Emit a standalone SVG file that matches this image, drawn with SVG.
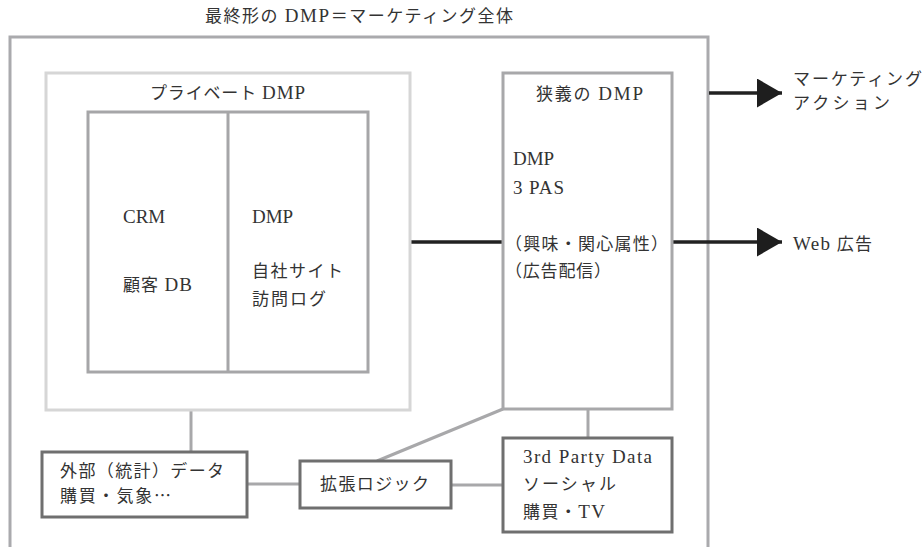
<svg xmlns="http://www.w3.org/2000/svg" width="923" height="547" viewBox="0 0 923 547">
<style>
text{font-family:"Liberation Serif","Noto Sans CJK JP",serif;font-size:17px;fill:#333;}
.L{font-size:19px;}
.cjk{font-family:"Noto Sans CJK JP",sans-serif;}
.outer{fill:none;stroke:#aaaaad;stroke-width:3;}
.priv{fill:none;stroke:#d6d6d6;stroke-width:3;}
.inner{fill:none;stroke:#a6a6a8;stroke-width:3;}
.nar{fill:none;stroke:#a8a8aa;stroke-width:3;}
.dark{fill:#fff;stroke:#6f6f6f;stroke-width:3;}
.gl{stroke:#a8a8aa;stroke-width:3;fill:none;}
.bl{stroke:#222;stroke-width:3.5;fill:none;}
</style>
<defs>
<marker id="ah" viewBox="0 0 25 29" refX="25" refY="14.5" markerWidth="25" markerHeight="29" markerUnits="userSpaceOnUse" orient="auto">
<path d="M0,0 L25,14.5 L0,29 Z" fill="#1e1e1e"/>
</marker>
</defs>
<rect width="923" height="547" fill="#fff"/>
<g id="title"><text x="205" y="22" textLength="308" lengthAdjust="spacing">最終形の <tspan class="L">DMP</tspan>＝マーケティング全体</text></g>
<g id="outer"><path class="outer" d="M10,560 L10,37 L708,37 L708,560"/></g>
<g id="connectors">
<line class="bl" x1="410" y1="242" x2="503" y2="242"/>
<line class="bl" x1="672" y1="242" x2="782" y2="242" marker-end="url(#ah)"/>
<line class="bl" x1="709" y1="93" x2="782" y2="93" marker-end="url(#ah)"/>
<line class="gl" x1="191" y1="410" x2="191" y2="452"/>
<line class="gl" x1="247" y1="484" x2="300" y2="484"/>
<line class="gl" x1="451" y1="485" x2="503" y2="485"/>
<line class="gl" x1="377" y1="461" x2="503" y2="409"/>
<line class="gl" x1="588" y1="409" x2="588" y2="438"/>
</g>
<g id="private-dmp">
<rect class="priv" x="46" y="73" width="364" height="337"/>
<text x="150" y="99" textLength="155" lengthAdjust="spacing">プライベート <tspan class="L">DMP</tspan></text>
</g>
<g id="crm-dmp">
<rect class="inner" x="88" y="112" width="280" height="260"/>
<line class="inner" x1="228" y1="112" x2="228" y2="372"/>
<text x="123" y="223" class="L">CRM</text>
<text x="123" y="291" textLength="69" lengthAdjust="spacing">顧客 <tspan class="L">DB</tspan></text>
<text x="252" y="223" class="L">DMP</text>
<text x="252" y="277" textLength="91" lengthAdjust="spacing">自社サイト</text>
<text x="252" y="305" textLength="74" lengthAdjust="spacing">訪問ログ</text>
</g>
<g id="narrow-dmp">
<rect class="nar" x="503" y="73" width="169" height="336"/>
<text x="536" y="100" textLength="107" lengthAdjust="spacing">狭義の <tspan class="L">DMP</tspan></text>
<text x="513" y="165" class="L">DMP</text>
<text x="513" y="194" class="L" textLength="51" lengthAdjust="spacing">3 PAS</text>
<text x="505" y="250" textLength="163" lengthAdjust="spacing">（興味・関心属性）</text>
<text x="505" y="277" textLength="106" lengthAdjust="spacing">（広告配信）</text>
</g>
<g id="marketing-action">
<text x="793" y="85" textLength="129" lengthAdjust="spacing">マーケティング</text>
<text x="793" y="109" textLength="97" lengthAdjust="spacing">アクション</text>
</g>
<g id="web-ad"><text x="793" y="250" textLength="79" lengthAdjust="spacing"><tspan class="L">Web</tspan> 広告</text></g>
<g id="external-data">
<rect class="dark" x="42" y="452" width="205" height="65"/>
<text x="60" y="477" textLength="164" lengthAdjust="spacing">外部（統計）データ</text>
<text x="60" y="502" textLength="111" lengthAdjust="spacing">購買・気象<tspan class="cjk">…</tspan></text>
</g>
<g id="extension-logic">
<rect class="dark" x="300" y="461" width="151" height="47"/>
<text x="320" y="490" textLength="109" lengthAdjust="spacing">拡張ロジック</text>
</g>
<g id="third-party">
<rect class="dark" x="503" y="438" width="169" height="94"/>
<text x="523" y="463" class="L" textLength="129" lengthAdjust="spacing">3rd Party Data</text>
<text x="523" y="490" textLength="93" lengthAdjust="spacing">ソーシャル</text>
<text x="523" y="518" textLength="82" lengthAdjust="spacing">購買・<tspan class="L">TV</tspan></text>
</g>
</svg>
